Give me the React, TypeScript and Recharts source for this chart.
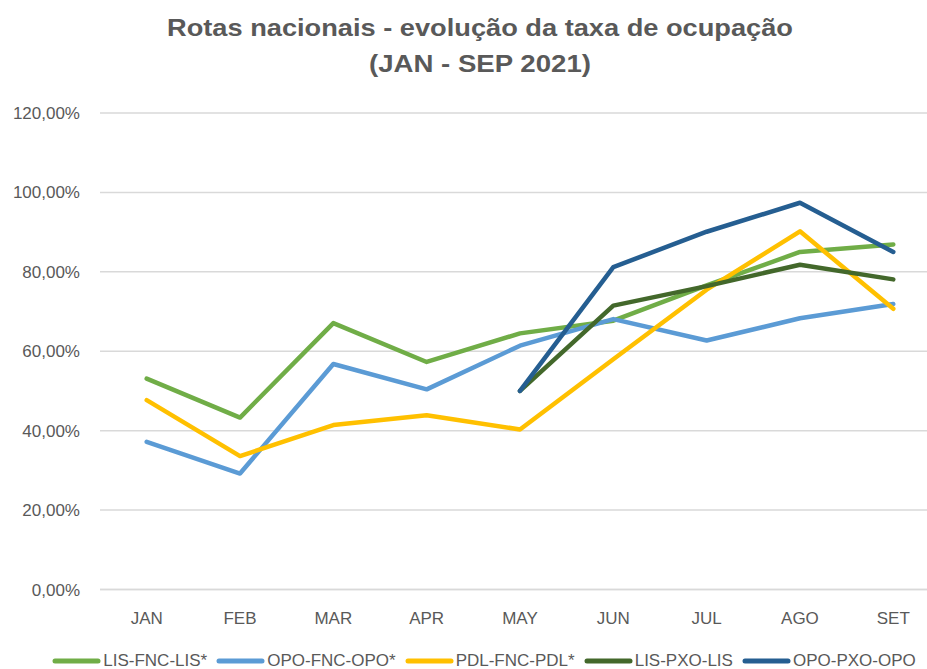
import { LineChart, Line, XAxis, YAxis, CartesianGrid, Legend } from "recharts";

const months = ["JAN", "FEB", "MAR", "APR", "MAY", "JUN", "JUL", "AGO", "SET"];
const lisFncLis = [53.1, 43.3, 67.1, 57.3, 64.5, 67.7, 76.6, 85.0, 86.9];
const opoFncOpo = [37.2, 29.2, 56.8, 50.4, 61.4, 68.1, 62.7, 68.3, 71.9];
const pdlFncPdl = [47.7, 33.6, 41.4, 43.9, 40.3, 58.0, 75.5, 90.2, 70.7];
const lisPxoLis = [null, null, null, null, 50.0, 71.5, 76.4, 81.8, 78.1];
const opoPxoOpo = [null, null, null, null, 50.0, 81.2, 90.1, 97.4, 85.0];
const yTicks = [0, 20, 40, 60, 80, 100, 120];

const series = [
  { key: "LIS-FNC-LIS*", values: lisFncLis, color: "#70AD47" },
  { key: "OPO-FNC-OPO*", values: opoFncOpo, color: "#5B9BD5" },
  { key: "PDL-FNC-PDL*", values: pdlFncPdl, color: "#FFC000" },
  { key: "LIS-PXO-LIS", values: lisPxoLis, color: "#43682B" },
  { key: "OPO-PXO-OPO", values: opoPxoOpo, color: "#255E91" },
];

const data = months.map((m, i) => {
  const row: Record<string, string | number | null> = { month: m };
  series.forEach((s) => (row[s.key] = s.values[i]));
  return row;
});

const FONT = "'Liberation Sans', Arial, sans-serif";
const GREY = "#595959";

const LegendRow = () => (
  <div style={{ display: "flex", justifyContent: "center", alignItems: "center", height: 16, paddingTop: 8, fontFamily: FONT, fontSize: 17, color: GREY }}>
    {series.map((s, i) => (
      <span key={s.key} style={{ display: "flex", alignItems: "center", marginRight: i < series.length - 1 ? 9 : 0, whiteSpace: "nowrap" }}>
        <svg width={49} height={8} style={{ marginRight: 2 }}>
          <line x1={3} y1={4} x2={46} y2={4} stroke={s.color} strokeWidth={5} strokeLinecap="round" />
        </svg>
        {s.key}
      </span>
    ))}
  </div>
);

export default function App() {
  return (
    <div style={{ position: "absolute", left: 0, top: 0, width: 927, height: 669, overflow: "hidden", background: "#fff" }}>
      <svg width={965} height={90} style={{ position: "absolute", left: 0, top: 0 }}>
        <text x={480} y={35.7} textAnchor="middle" fontFamily={FONT} fontWeight="bold" fontSize={24} fill={GREY} textLength={626} lengthAdjust="spacingAndGlyphs">
          Rotas nacionais - evolução da taxa de ocupação
        </text>
        <text x={480} y={71.7} textAnchor="middle" fontFamily={FONT} fontWeight="bold" fontSize={24} fill={GREY} textLength={222} lengthAdjust="spacingAndGlyphs">
          (JAN - SEP 2021)
        </text>
      </svg>
      <LineChart width={965} height={669} data={data} margin={{ top: 113, right: 25, left: 0, bottom: 25.5 }}>
        <CartesianGrid vertical={false} stroke="#D9D9D9" strokeWidth={1.5} />
        <XAxis
          dataKey="month"
          height={30}
          padding={{ left: 46.7, right: 46.7 }}
          axisLine={{ stroke: "#D9D9D9", strokeWidth: 1.5 }}
          tickLine={false}
          tickMargin={16}
          tick={{ fill: GREY, fontSize: 17, fontFamily: FONT }}
        />
        <YAxis
          width={100}
          domain={[0, 120]}
          ticks={yTicks}
          axisLine={false}
          tickLine={false}
          tickMargin={14}
          tickFormatter={(v: number) => `${v},00%`}
          tick={{ fill: GREY, fontSize: 17, fontFamily: FONT }}
        />
        <Legend verticalAlign="bottom" content={() => <LegendRow />} wrapperStyle={{ bottom: 0, left: 14 }} />
        {series.map((s) => (
          <Line
            key={s.key}
            dataKey={s.key}
            stroke={s.color}
            strokeWidth={4.5}
            strokeLinejoin="round"
            strokeLinecap="round"
            dot={false}
            activeDot={false}
            type="linear"
            isAnimationActive={false}
          />
        ))}
      </LineChart>
    </div>
  );
}
